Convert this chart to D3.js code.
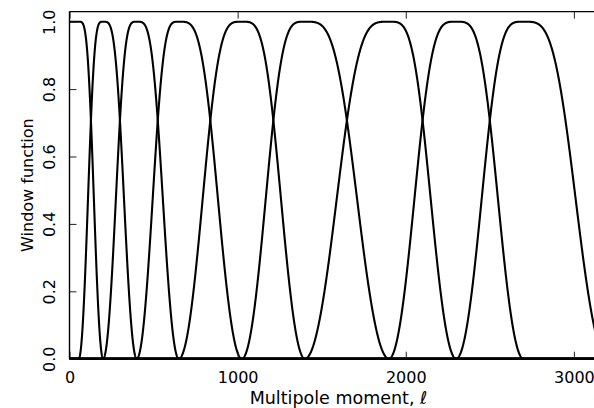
<!DOCTYPE html>
<html>
<head>
<meta charset="utf-8">
<script src="https://cdn.jsdelivr.net/npm/d3@7"></script>
<style>
  html, body { margin: 0; padding: 0; background: #fff; }
  svg { display: block; font-family: "DejaVu Sans", sans-serif; }
</style>
</head>
<body>
<svg id="chart" width="594" height="408"></svg>
<script>
// Band edges in multipole ℓ: window k rises between knots[k-1] and knots[k]
// and falls between knots[k] and knots[k+1]; the first window starts at 1.
const knots = [55, 200, 400, 650, 1025, 1400, 1900, 2300, 2700, 3200];
const xTicks = [0, 1000, 2000, 3000];
const yTicks = [0.0, 0.2, 0.4, 0.6, 0.8, 1.0];
const xDomain = [0, 3200];
const yDomain = [0, 1.03];

const svg = d3.select("#chart");
const plotLeft = 69.5, plotRight = 607.5, plotTop = 11.6, plotBottom = 358.7;

const x = d3.scaleLinear().domain(xDomain).range([plotLeft, plotRight]);
const y = d3.scaleLinear().domain(yDomain).range([plotBottom, plotTop]);

// Smooth taper: cos(π/2 · s(t)) with s a cosine step, so squared windows sum to 1.
const step = t => (1 - Math.cos(Math.PI * t)) / 2;
function windowValue(k, l) {
  const riseStart = k === 0 ? -Infinity : knots[k - 1];
  const riseEnd = k === 0 ? knots[0] : knots[k];
  const fallEnd = k === 0 ? knots[1] : knots[k + 1];
  if (l <= riseStart || l >= fallEnd) return 0;
  if (l < riseEnd) {
    return k === 0 ? 1 : Math.sin(Math.PI / 2 * step((l - riseStart) / (riseEnd - riseStart)));
  }
  return Math.cos(Math.PI / 2 * step((l - riseEnd) / (fallEnd - riseEnd)));
}

const nWindows = knots.length - 1;
const ells = d3.range(xDomain[0], xDomain[1] + 1, 1);

svg.append("clipPath").attr("id", "plotclip")
  .append("rect").attr("x", plotLeft).attr("y", 0)
  .attr("width", plotRight - plotLeft).attr("height", 408);

const line = d3.line().x(d => x(d[0])).y(d => y(d[1]));
const curves = svg.append("g").attr("clip-path", "url(#plotclip)");
for (let k = 0; k < nWindows; k++) {
  curves.append("path")
    .datum(ells.map(l => [l, windowValue(k, l)]))
    .attr("d", line)
    .attr("fill", "none")
    .attr("stroke", "#000")
    .attr("stroke-width", 2.1)
    .attr("stroke-linejoin", "round");
}

// Axes with inward ticks
const tickLen = 7;
const xAxis = svg.append("g").attr("transform", `translate(0,${plotBottom})`)
  .call(d3.axisBottom(x).tickValues(xTicks).tickFormat(d3.format("d"))
    .tickSizeInner(-tickLen).tickSizeOuter(0).tickPadding(13));
xAxis.select(".domain").remove();
xAxis.selectAll("text").attr("font-size", 16).attr("fill", "#000")
  .attr("font-family", "DejaVu Sans");
xAxis.selectAll("line").attr("stroke", "#222");

const xTop = svg.append("g").attr("transform", `translate(0,${plotTop})`)
  .call(d3.axisTop(x).tickValues(xTicks).tickFormat("")
    .tickSizeInner(-tickLen).tickSizeOuter(0));
xTop.select(".domain").remove();
xTop.selectAll("line").attr("stroke", "#222");

const yAxis = svg.append("g").attr("transform", `translate(${plotLeft},0)`)
  .call(d3.axisLeft(y).tickValues(yTicks).tickFormat(d3.format(".1f"))
    .tickSizeInner(-tickLen).tickSizeOuter(0));
yAxis.select(".domain").remove();
yAxis.selectAll("line").attr("stroke", "#222");
yAxis.selectAll("text")
  .attr("font-size", 16).attr("fill", "#000").attr("font-family", "DejaVu Sans")
  .attr("x", null).attr("dy", null)
  .attr("text-anchor", "middle")
  .attr("transform", "rotate(-90)")
  .attr("y", -14.5);

// Frame
const frame = svg.append("g").attr("stroke", "#000").attr("stroke-width", 1.4).attr("fill", "none");
frame.append("line").attr("x1", plotLeft).attr("x2", plotLeft).attr("y1", plotTop).attr("y2", plotBottom);
frame.append("line").attr("x1", plotLeft).attr("x2", plotRight).attr("y1", plotTop).attr("y2", plotTop);
frame.append("line").attr("x1", plotLeft).attr("x2", plotRight).attr("y1", plotBottom).attr("y2", plotBottom);

// Axis titles
const xl = svg.append("text")
  .attr("x", (plotLeft + plotRight) / 2).attr("y", 404)
  .attr("text-anchor", "middle").attr("font-size", 17.5).attr("fill", "#000");
xl.append("tspan").text("Multipole moment, ");
xl.append("tspan").attr("font-style", "italic").text("ℓ");

svg.append("text")
  .attr("transform", `translate(33,${(plotTop + plotBottom) / 2}) rotate(-90)`)
  .attr("text-anchor", "middle").attr("font-size", 16).attr("fill", "#000")
  .text("Window function");
</script>
</body>
</html>
